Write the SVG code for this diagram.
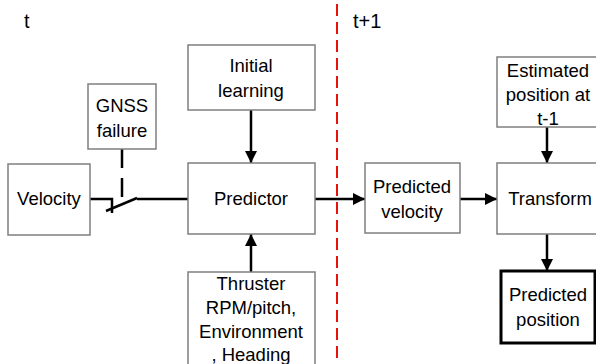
<svg xmlns="http://www.w3.org/2000/svg" width="596" height="364" viewBox="0 0 596 364">
<style>
.box{fill:#fff;stroke:#7f7f7f;stroke-width:1.5}
.thick{fill:#fff;stroke:#000;stroke-width:3}
text{font-family:"Liberation Sans",Arial,sans-serif;font-size:18.5px;fill:#000;text-anchor:middle}
.ln{fill:none;stroke:#000;stroke-width:2.5}
</style>
<defs>
<marker id="ah" viewBox="0 0 12 12" markerWidth="12" markerHeight="12" refX="12" refY="6" orient="auto" markerUnits="userSpaceOnUse">
<path d="M0,0 L12,6 L0,12 Z" fill="#000"/>
</marker>
</defs>
<rect width="596" height="364" fill="#fff"/>
<text x="24" y="28" style="text-anchor:start;font-size:20px">t</text>
<text x="353" y="28" style="text-anchor:start;font-size:20px">t+1</text>
<g id="connectors">
<line x1="337" y1="4" x2="337" y2="364" stroke="#e8120c" stroke-width="2" stroke-dasharray="12,6"/>
<line class="ln" x1="122" y1="149" x2="122" y2="199" stroke-dasharray="19,10"/>
<polyline class="ln" points="90,199 112,199 112,213"/>
<line class="ln" x1="106" y1="211" x2="137" y2="198"/>
<line class="ln" x1="137" y1="199" x2="188" y2="199"/>
<line class="ln" x1="251" y1="110" x2="251" y2="163" marker-end="url(#ah)"/>
<line class="ln" x1="251" y1="272" x2="251" y2="234" marker-end="url(#ah)"/>
<line class="ln" x1="315" y1="199" x2="365" y2="199" marker-end="url(#ah)"/>
<line class="ln" x1="460" y1="199" x2="497" y2="199" marker-end="url(#ah)"/>
<line class="ln" x1="547" y1="127" x2="547" y2="163" marker-end="url(#ah)"/>
<line class="ln" x1="547" y1="234" x2="547" y2="271" marker-end="url(#ah)"/>
</g>
<g id="velocity"><rect class="box" x="8" y="164" width="82" height="71"/><text x="49" y="205">Velocity</text></g>
<g id="gnss"><rect class="box" x="88" y="84" width="68" height="65"/><text x="122" y="112">GNSS</text><text x="122" y="137">failure</text></g>
<g id="initial"><rect class="box" x="188" y="45" width="127" height="65"/><text x="251" y="72">Initial</text><text x="251" y="97">learning</text></g>
<g id="predictor"><rect class="box" x="188" y="163" width="127" height="71"/><text x="251" y="205">Predictor</text></g>
<g id="thruster"><rect class="box" x="188" y="272" width="127" height="100"/><text x="251" y="290">Thruster</text><text x="251" y="314">RPM/pitch,</text><text x="251" y="338">Environment</text><text x="251" y="361">, Heading</text></g>
<g id="predvel"><rect class="box" x="365" y="163" width="95" height="70"/><text x="412" y="193">Predicted</text><text x="412" y="218">velocity</text></g>
<g id="estimated"><rect class="box" x="497" y="57" width="105" height="70"/><text x="548" y="77">Estimated</text><text x="548" y="101">position at</text><text x="548" y="125">t-1</text></g>
<g id="transform"><rect class="box" x="497" y="163" width="105" height="71"/><text x="550" y="205">Transform</text></g>
<g id="predpos"><rect class="thick" x="501" y="271" width="94" height="72"/><text x="548" y="301">Predicted</text><text x="548" y="326">position</text></g>
</svg>
